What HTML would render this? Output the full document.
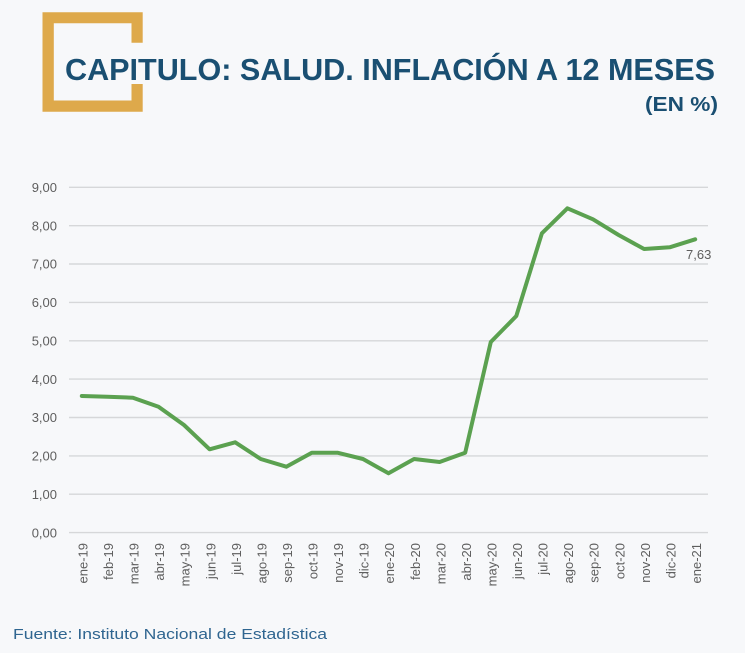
<!DOCTYPE html>
<html>
<head>
<meta charset="utf-8">
<style>
html,body{margin:0;padding:0;background:#f7f8fa;}
svg{display:block;}
</style>
</head>
<body>
<svg width="745" height="653" viewBox="0 0 745 653" xmlns="http://www.w3.org/2000/svg">
<rect width="745" height="653" fill="#f7f8fa"/>
<!-- gold bracket -->
<path d="M42.5,12.3 H142.7 V42.7 H131.5 V23.3 H53.8 V100.5 H131.5 V84 H142.7 V111.7 H42.5 Z" fill="#dea94b"/>
<!-- title -->
<text x="65" y="80" font-family="Liberation Sans, sans-serif" font-weight="bold" font-size="31" fill="#1a4f72" textLength="650" lengthAdjust="spacingAndGlyphs">CAPITULO: SALUD. INFLACIÓN A 12 MESES</text>
<text x="718" y="111" text-anchor="end" font-family="Liberation Sans, sans-serif" font-weight="bold" font-size="20" fill="#1a4f72" textLength="73" lengthAdjust="spacingAndGlyphs">(EN %)</text>

<!-- grid -->
<g stroke="#d6d7d9" stroke-width="1.4">
<line x1="69" x2="708" y1="187.3" y2="187.3"/>
<line x1="69" x2="708" y1="225.7" y2="225.7"/>
<line x1="69" x2="708" y1="264.0" y2="264.0"/>
<line x1="69" x2="708" y1="302.4" y2="302.4"/>
<line x1="69" x2="708" y1="340.8" y2="340.8"/>
<line x1="69" x2="708" y1="379.1" y2="379.1"/>
<line x1="69" x2="708" y1="417.5" y2="417.5"/>
<line x1="69" x2="708" y1="455.9" y2="455.9"/>
<line x1="69" x2="708" y1="494.2" y2="494.2"/>
<line x1="69" x2="708" y1="532.6" y2="532.6"/>
</g>
<!-- y labels -->
<g font-family="Liberation Sans, sans-serif" font-size="13" fill="#5e5e5e" text-anchor="end">
<text x="57" y="192">9,00</text>
<text x="57" y="230.4">8,00</text>
<text x="57" y="268.7">7,00</text>
<text x="57" y="307.1">6,00</text>
<text x="57" y="345.5">5,00</text>
<text x="57" y="383.8">4,00</text>
<text x="57" y="422.2">3,00</text>
<text x="57" y="460.6">2,00</text>
<text x="57" y="498.9">1,00</text>
<text x="57" y="537.3">0,00</text>
</g>
<!-- series -->
<polyline fill="none" stroke="#5ba150" stroke-width="4" stroke-linejoin="round" stroke-linecap="round"
points="81.8,396 107.4,396.7 132.9,397.7 158.5,406.7 184.0,425 209.6,449.3 235.2,442.3 260.7,459 286.3,466.7 311.8,452.7 337.4,452.7 363.0,459 388.5,473.3 414.1,459 439.6,462 465.2,452.7 490.8,342 516.3,316 541.9,233.3 567.4,208.3 593.0,219.3 618.6,235 644.1,249 669.7,247.3 695.2,239.3"/>
<text x="686" y="259" font-family="Liberation Sans, sans-serif" font-size="13" fill="#5e5e5e">7,63</text>

<!-- x labels -->
<g font-family="Liberation Sans, sans-serif" font-size="13" fill="#5e5e5e" text-anchor="end">
<text transform="translate(87.5,543) rotate(-90)">ene-19</text>
<text transform="translate(113.1,543) rotate(-90)">feb-19</text>
<text transform="translate(138.6,543) rotate(-90)">mar-19</text>
<text transform="translate(164.2,543) rotate(-90)">abr-19</text>
<text transform="translate(189.7,543) rotate(-90)">may-19</text>
<text transform="translate(215.3,543) rotate(-90)">jun-19</text>
<text transform="translate(240.9,543) rotate(-90)">jul-19</text>
<text transform="translate(266.4,543) rotate(-90)">ago-19</text>
<text transform="translate(292.0,543) rotate(-90)">sep-19</text>
<text transform="translate(317.5,543) rotate(-90)">oct-19</text>
<text transform="translate(343.1,543) rotate(-90)">nov-19</text>
<text transform="translate(368.7,543) rotate(-90)">dic-19</text>
<text transform="translate(394.2,543) rotate(-90)">ene-20</text>
<text transform="translate(419.8,543) rotate(-90)">feb-20</text>
<text transform="translate(445.3,543) rotate(-90)">mar-20</text>
<text transform="translate(470.9,543) rotate(-90)">abr-20</text>
<text transform="translate(496.5,543) rotate(-90)">may-20</text>
<text transform="translate(522.0,543) rotate(-90)">jun-20</text>
<text transform="translate(547.6,543) rotate(-90)">jul-20</text>
<text transform="translate(573.1,543) rotate(-90)">ago-20</text>
<text transform="translate(598.7,543) rotate(-90)">sep-20</text>
<text transform="translate(624.3,543) rotate(-90)">oct-20</text>
<text transform="translate(649.8,543) rotate(-90)">nov-20</text>
<text transform="translate(675.4,543) rotate(-90)">dic-20</text>
<text transform="translate(700.9,543) rotate(-90)">ene-21</text>
</g>

<!-- footer -->
<text x="13" y="639" font-family="Liberation Sans, sans-serif" font-size="15" fill="#2f6590" textLength="314" lengthAdjust="spacingAndGlyphs">Fuente: Instituto Nacional de Estadística</text>
</svg>
</body>
</html>
